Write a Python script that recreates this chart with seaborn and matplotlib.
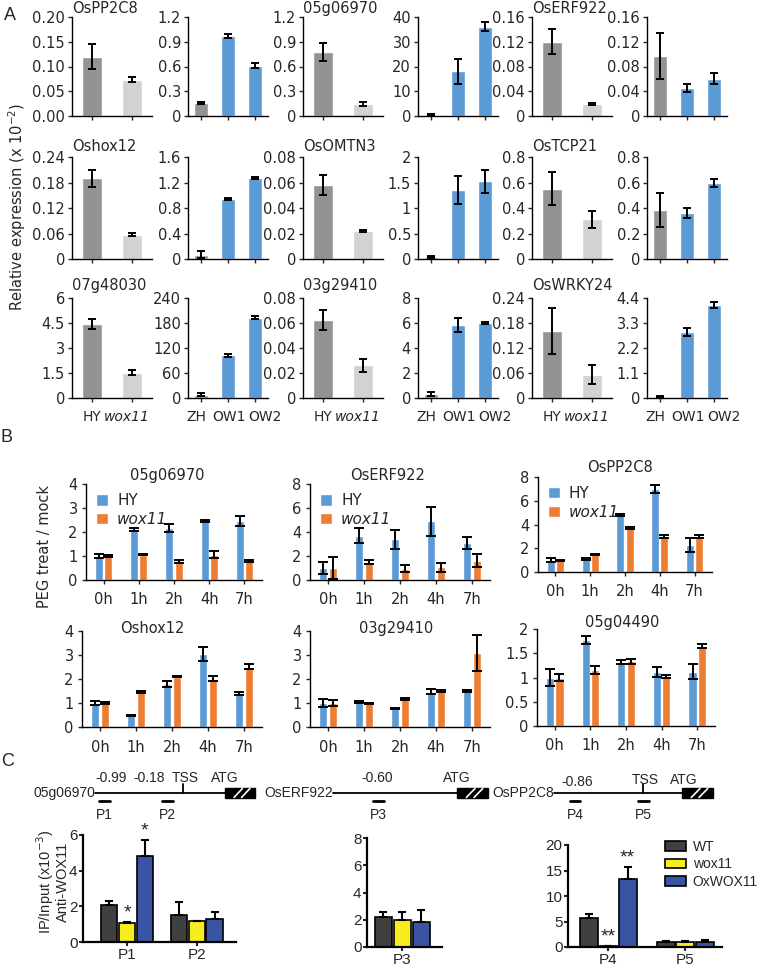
import numpy as np
import pandas as pd
import matplotlib
matplotlib.use('Agg')
import matplotlib.pyplot as plt
import matplotlib.transforms as mtransforms
import seaborn as sns
from matplotlib.patches import Rectangle, Patch

sns.set_style('ticks')
plt.rcParams['font.family'] = ['DejaVu Sans']
plt.rcParams['axes.linewidth'] = 1.0
plt.rcParams['axes.edgecolor'] = 'black'

W, H = 760, 966
ARIAL = 'Liberation Sans'
GRAY_D, GRAY_L, BLUE, ORANGE = '#939393', '#d2d2d2', '#5b9bd5', '#ed7d31'
CHIP_COLORS = ['#404040', '#f7ec1f', '#3a54a4']

# ---- panel A: relative expression ----
genes_a = ['OsPP2C8', '05g06970', 'OsERF922', 'Oshox12', 'OsOMTN3', 'OsTCP21',
           '07g48030', '03g29410', 'OsWRKY24']
mut_lines = ['HY', 'wox11']
ox_lines = ['ZH', 'OW1', 'OW2']
mut_vals = [[0.12, 0.073], [0.78, 0.15], [0.12, 0.019],
            [0.19, 0.057], [0.058, 0.022], [0.55, 0.31],
            [4.45, 1.5], [0.062, 0.026], [0.16, 0.056]]
mut_errs = [[0.025, 0.005], [0.11, 0.025], [0.02, 0.002],
            [0.02, 0.004], [0.008, 0.001], [0.13, 0.065],
            [0.3, 0.15], [0.008, 0.005], [0.055, 0.022]]
ox_vals = [[0.16, 0.97, 0.61], [0.5, 18, 36], [0.097, 0.045, 0.06],
           [0.07, 0.94, 1.27], [0.04, 1.35, 1.52], [0.385, 0.36, 0.595],
           [8, 102, 193], [0.3, 5.85, 6.0], [0.05, 2.9, 4.1]]
ox_errs = [[0.01, 0.03, 0.03], [0.3, 5, 1.8], [0.037, 0.006, 0.009],
           [0.06, 0.02, 0.015], [0.02, 0.27, 0.22], [0.135, 0.04, 0.03],
           [4, 3, 4], [0.15, 0.55, 0.1], [0.02, 0.17, 0.12]]
mut_ticks = [['0.00', '0.05', '0.10', '0.15', '0.20'], ['0', '0.3', '0.6', '0.9', '1.2'],
             ['0', '0.04', '0.08', '0.12', '0.16'], ['0', '0.06', '0.12', '0.18', '0.24'],
             ['0', '0.02', '0.04', '0.06', '0.08'], ['0', '0.2', '0.4', '0.6', '0.8'],
             ['0', '1.5', '3', '4.5', '6'], ['0', '0.02', '0.04', '0.06', '0.08'],
             ['0', '0.06', '0.12', '0.18', '0.24']]
ox_ticks = [['0', '0.3', '0.6', '0.9', '1.2'], ['0', '10', '20', '30', '40'],
            ['0', '0.04', '0.08', '0.12', '0.16'], ['0', '0.4', '0.8', '1.2', '1.6'],
            ['0', '0.5', '1', '1.5', '2'], ['0', '0.2', '0.4', '0.6', '0.8'],
            ['0', '60', '120', '180', '240'], ['0', '2', '4', '6', '8'],
            ['0', '1.1', '2.2', '3.3', '4.4']]

# ---- panel B: PEG treat / mock ----
times = ['0h', '1h', '2h', '4h', '7h']
genes_b = ['05g06970', 'OsERF922', 'OsPP2C8', 'Oshox12', '03g29410', '05g04490']
hy_vals = [[1.0, 2.1, 2.17, 2.45, 2.45], [1.0, 3.7, 3.4, 4.9, 3.1], [1.0, 1.1, 4.8, 7.0, 2.3],
           [1.0, 0.48, 1.8, 3.05, 1.38], [1.0, 1.05, 0.78, 1.47, 1.5], [1.0, 1.78, 1.32, 1.12, 1.12]]
hy_errs = [[0.1, 0.05, 0.15, 0.04, 0.2], [0.5, 0.6, 0.8, 1.2, 0.5], [0.15, 0.1, 0.1, 0.35, 0.6],
           [0.1, 0.03, 0.13, 0.3, 0.06], [0.15, 0.04, 0.03, 0.1, 0.03], [0.18, 0.08, 0.04, 0.1, 0.15]]
wox_vals = [[1.0, 1.06, 0.77, 1.05, 0.8], [1.0, 1.5, 0.95, 1.05, 1.6], [1.0, 1.5, 3.7, 3.0, 3.0],
            [1.0, 1.46, 2.1, 2.02, 2.52], [1.0, 0.98, 1.17, 1.5, 3.1], [1.0, 1.15, 1.33, 1.02, 1.65]]
wox_errs = [[0.05, 0.03, 0.06, 0.14, 0.03], [0.9, 0.2, 0.3, 0.4, 0.55], [0.05, 0.05, 0.1, 0.1, 0.1],
            [0.06, 0.06, 0.03, 0.1, 0.12], [0.12, 0.02, 0.03, 0.03, 0.75], [0.08, 0.08, 0.05, 0.04, 0.05]]
b_ticks = [['0', '1', '2', '3', '4'], ['0', '2', '4', '6', '8'], ['0', '2', '4', '6', '8'],
           ['0', '1', '2', '3', '4'], ['0', '1', '2', '3', '4'], ['0', '0.5', '1', '1.5', '2']]

# ---- panel C: ChIP-qPCR ----
chip_lines = ['WT', 'wox11', 'OxWOX11']
chip_sites = ['P1', 'P2', 'P3', 'P4', 'P5']
chip_wt = [2.1, 1.5, 2.2, 5.6, 1.05]
chip_wt_err = [0.18, 0.72, 0.4, 0.9, 0.15]
chip_wox = [1.05, 1.15, 2.0, 0.2, 1.0]
chip_wox_err = [0.06, 0.05, 0.6, 0.05, 0.1]
chip_ox = [4.8, 1.28, 1.8, 13.3, 1.0]
chip_ox_err = [0.92, 0.4, 0.9, 2.3, 0.4]
chip_star_wox = ['*', '', '', '**', '']
chip_star_ox = ['*', '', '', '**', '']
chip_ticks = [['0', '2', '4', '6'], ['0', '2', '4', '6', '8'], ['0', '5', '10', '15', '20']]


def px_rect(l, t, r, b):
    return [l / W, 1 - b / H, (r - l) / W, (b - t) / H]


fig = plt.figure(figsize=(W / 100, H / 100), dpi=100)

# gene diagram layer (pixel coordinates)
diag = fig.add_axes([0, 0, 1, 1])
diag.set_xlim(0, W)
diag.set_ylim(H, 0)
diag.axis('off')


def expr_bars(ax, cats, vals, errs, colors, ticks, bottom_row, label_shift):
    df = pd.DataFrame({'line': cats, 'val': vals})
    sns.barplot(data=df, x='line', y='val', hue='line', palette=colors, legend=False,
                width=0.52, saturation=1, errorbar=None, ax=ax)
    ax.errorbar(np.arange(len(cats)), vals, yerr=errs, fmt='none', ecolor='black',
                elinewidth=1.4, capsize=3, capthick=1.4)
    tv = [float(t) for t in ticks]
    ax.set_ylim(0, tv[-1])
    ax.set_yticks(tv, ticks)
    ax.set_xlim(-0.5, len(cats) - 0.5)
    ax.set_xlabel('')
    ax.set_ylabel('')
    sns.despine(ax=ax)
    ax.tick_params(axis='y', length=3, width=1, labelsize=10.5, pad=2)
    ax.tick_params(axis='x', length=3, width=1, labelsize=10, pad=6)
    ax.set_xticks(np.arange(len(cats)))
    if bottom_row:
        ax.set_xticklabels(cats)
        for lbl, dx in zip(ax.get_xticklabels(), label_shift):
            if lbl.get_text() == 'wox11':
                lbl.set_style('italic')
            off = mtransforms.ScaledTranslation(dx / 100, 0, fig.dpi_scale_trans)
            lbl.set_transform(lbl.get_transform() + off)
    else:
        ax.set_xticklabels([])


a_cols = [72, 188, 303, 418, 532, 647]
a_rows = [(17, 116), (157, 259), (298, 398)]
a_title_y = [1.09, 1.10, 1.12]
for g, gene in enumerate(genes_a):
    r, c = g // 3, (g % 3) * 2
    top, bot = a_rows[r]
    ax_m = fig.add_axes(px_rect(a_cols[c], top, a_cols[c] + 80, bot))
    expr_bars(ax_m, mut_lines, mut_vals[g], mut_errs[g], [GRAY_D, GRAY_L], mut_ticks[g],
              r == 2, [0, -5])
    ax_m.text(0.0, a_title_y[r], gene, transform=ax_m.transAxes, ha='left', va='center',
              fontsize=10.5)
    ax_o = fig.add_axes(px_rect(a_cols[c + 1], top, a_cols[c + 1] + 80, bot))
    expr_bars(ax_o, ox_lines, ox_vals[g], ox_errs[g], [GRAY_D, BLUE, BLUE], ox_ticks[g],
              r == 2, [-5, 1, 10])

fig.text(17 / W, 1 - 207 / H, 'Relative expression (x 10$^{-2}$)', rotation=90,
         ha='center', va='center', fontsize=10.5)

# ---- panel B ----
b_rects = [(86, 484, 262, 580), (310, 484, 490, 580), (538, 477, 712, 572),
           (82, 631, 262, 727), (310, 631, 490, 727), (537, 629, 715, 726)]
b_title_pos = [(0.46, 1.09), (0.43, 1.09), (0.47, 1.105),
               (0.39, 1.03), (0.48, 1.03), (0.48, 1.07)]
for gi, gene in enumerate(genes_b):
    ax = fig.add_axes(px_rect(*b_rects[gi]))
    df = pd.DataFrame({'time': times * 2,
                       'val': hy_vals[gi] + wox_vals[gi],
                       'line': ['HY'] * len(times) + ['wox11'] * len(times)})
    show_leg = gi < 3
    sns.barplot(data=df, x='time', y='val', hue='line', palette=[BLUE, ORANGE],
                width=0.52, gap=0.12, saturation=1, errorbar=None, ax=ax, legend=show_leg)
    for cont, err in zip(list(ax.containers[:2]), [hy_errs[gi], wox_errs[gi]]):
        xs = [p.get_x() + p.get_width() / 2 for p in cont]
        ys = [p.get_height() for p in cont]
        ax.errorbar(xs, ys, yerr=err, fmt='none', ecolor='black', elinewidth=1.4,
                    capsize=3.5, capthick=1.4)
    tv = [float(t) for t in b_ticks[gi]]
    ax.set_ylim(0, tv[-1])
    ax.set_yticks(tv, b_ticks[gi])
    ax.set_xlim(-0.5, len(times) - 0.5)
    ax.set_xlabel('')
    ax.set_ylabel('')
    sns.despine(ax=ax)
    ax.tick_params(axis='y', length=3, width=1, labelsize=10.5, pad=3)
    ax.tick_params(axis='x', length=3, width=1, labelsize=10.5, pad=6)
    ax.text(b_title_pos[gi][0], b_title_pos[gi][1], gene, transform=ax.transAxes,
            ha='center', va='center', fontsize=10.5)
    if show_leg:
        leg = ax.legend(loc='upper left', bbox_to_anchor=(0.02, 0.97), frameon=False,
                        handlelength=0.8, handleheight=0.8, handletextpad=0.6,
                        labelspacing=0.25, borderaxespad=0, fontsize=11)
        leg.get_texts()[1].set_style('italic')

fig.text(45 / W, 1 - 547 / H, 'PEG treat / mock', rotation=90, ha='center', va='center',
         fontsize=10.5)

# ---- panel C: promoter diagrams ----
line_y = 793
diag_genes = [('05g06970', 95, 225, 255), ('OsERF922', 333, 457, 488), ('OsPP2C8', 554, 682, 713)]
diag_marks = [(111, 778, '-0.99'), (149, 778, '-0.18'), (185, 778, 'TSS'), (225, 778, 'ATG'),
              (377, 778, '-0.60'), (457, 778, 'ATG'),
              (577, 782, '-0.86'), (645, 780, 'TSS'), (684, 780, 'ATG')]
tss_x = [183, 643]
primers = [(99, 110, 'P1'), (162, 173, 'P2'), (373, 384, 'P3'), (570, 580, 'P4'), (638, 649, 'P5')]

for name, x0, bx0, bx1 in diag_genes:
    diag.text(x0, line_y, name, ha='right', va='center', fontsize=10, family=ARIAL)
    diag.plot([x0, bx0], [line_y, line_y], color='black', lw=1.3)
    diag.add_patch(Rectangle((bx0, line_y - 5), bx1 - bx0, 10, color='black'))
    bw = bx1 - bx0
    for f0 in (0.3, 0.55):
        diag.plot([bx0 + bw * f0, bx0 + bw * (f0 + 0.28)], [line_y + 4.5, line_y - 4.5],
                  color='white', lw=1.2)
for x, y, s in diag_marks:
    diag.text(x, y, s, ha='center', va='center', fontsize=10, family=ARIAL)
for x in tss_x:
    diag.plot([x, x], [line_y, line_y - 9], color='black', lw=1.3)
for x0, x1, s in primers:
    diag.plot([x0, x1], [801, 801], color='black', lw=2)
    diag.text((x0 + x1) / 2, 815, s, ha='center', va='center', fontsize=10, family=ARIAL)

# ---- panel C: bars ----
c_rects = [(83, 835, 236, 942), (367, 838, 442, 947), (568, 845, 722, 947)]
c_xlims = [(-0.63, 1.56), (-0.47, 0.53), (-0.52, 1.48)]
c_groups = [[0, 1], [2], [3, 4]]
for k, idx in enumerate(c_groups):
    ax = fig.add_axes(px_rect(*c_rects[k]))
    sites = [chip_sites[i] for i in idx]
    series = [chip_wt, chip_wox, chip_ox]
    errs = [chip_wt_err, chip_wox_err, chip_ox_err]
    stars = [[''] * len(chip_sites), chip_star_wox, chip_star_ox]
    df = pd.DataFrame({'site': sites * 3,
                       'line': [l for l in chip_lines for _ in idx],
                       'val': [s[i] for s in series for i in idx]})
    sns.barplot(data=df, x='site', y='val', hue='line', palette=CHIP_COLORS, width=0.76,
                gap=0.08, edgecolor='black', linewidth=1.2, saturation=1, errorbar=None,
                legend=False, ax=ax)
    tv = [float(t) for t in chip_ticks[k]]
    for cont, e, st in zip(list(ax.containers[:3]), errs, stars):
        xs = [p.get_x() + p.get_width() / 2 for p in cont]
        ys = [p.get_height() for p in cont]
        ee = [e[i] for i in idx]
        ax.errorbar(xs, ys, yerr=[np.zeros(len(ee)), ee], fmt='none', ecolor='black',
                    elinewidth=1.5, capsize=3, capthick=1.5)
        for x, y, v, i in zip(xs, ys, ee, idx):
            if st[i]:
                ax.text(x, y + v + tv[-1] * 0.005, st[i], ha='center', va='bottom',
                        fontsize=14, family=ARIAL)
    ax.set_ylim(0, tv[-1])
    ax.set_yticks(tv, chip_ticks[k])
    ax.set_xlim(*c_xlims[k])
    ax.set_xlabel('')
    ax.set_ylabel('')
    sns.despine(ax=ax)
    for sp in ax.spines.values():
        sp.set_linewidth(1.6)
    ax.tick_params(axis='both', length=3, width=1.5, labelsize=11, pad=1)
    for lbl in ax.get_xticklabels() + ax.get_yticklabels():
        lbl.set_family(ARIAL)
    if k == 2:
        handles = [Patch(facecolor=c, edgecolor='black', linewidth=1.2) for c in CHIP_COLORS]
        ax.legend(handles, chip_lines, loc='upper left', bbox_to_anchor=(665 / W, 1 - 840 / H),
                  bbox_transform=fig.transFigure, frameon=False, borderpad=0,
                  borderaxespad=0, handlelength=1.5, handleheight=0.7, handletextpad=0.5,
                  labelspacing=0.25, prop={'family': ARIAL, 'size': 10})

fig.text(52 / W, 1 - 882 / H, 'IP/Input (x10$^{-3}$)\nAnti-WOX11', rotation=90,
         ha='center', va='center', multialignment='center', fontsize=10.5,
         linespacing=1.0, family=ARIAL)

for s, x, y in [('A', 10, 15), ('B', 7, 437), ('C', 8, 761)]:
    fig.text(x / W, 1 - y / H, s, ha='center', va='center', fontsize=13, family=ARIAL)

fig.savefig('out.png', dpi=100)
